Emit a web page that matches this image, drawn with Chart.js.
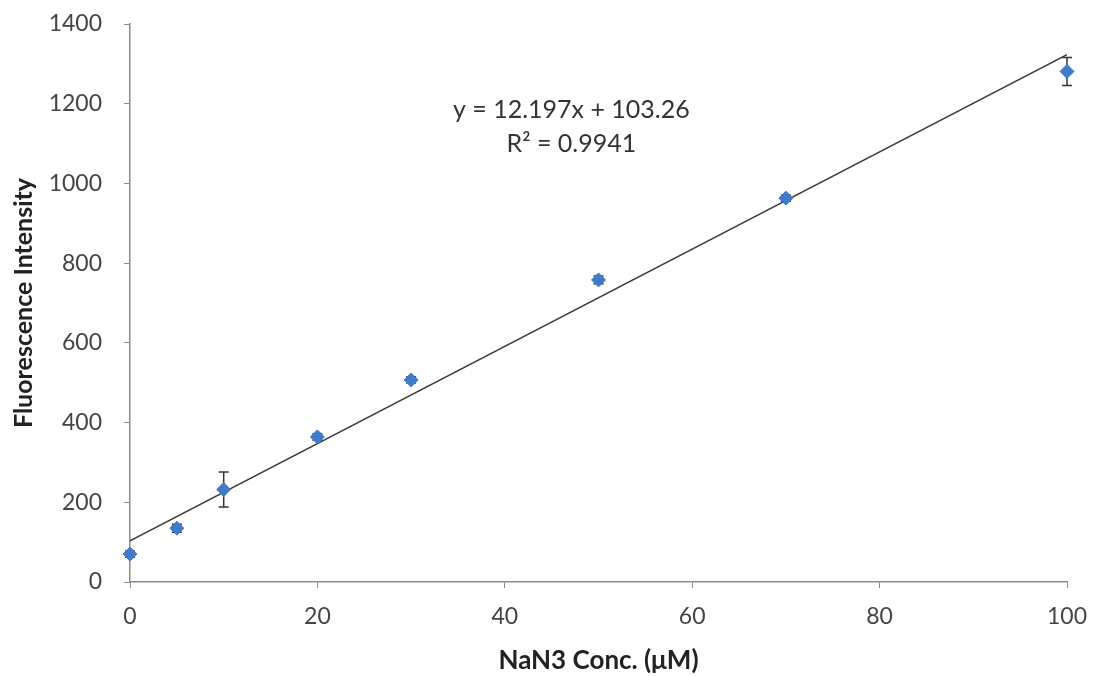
<!DOCTYPE html>
<html lang="en">
<head>
    <meta charset="UTF-8">
    <title>Fluorescence Intensity vs NaN3 Conc.</title>
    <script src="https://cdn.jsdelivr.net/npm/chart.js"></script>
    <style>
        html, body { margin: 0; padding: 0; background: #fff; }
        #wrap { width: 1093px; height: 676px; position: relative; }
    </style>
</head>
<body>
    <div id="wrap"><canvas id="chart"></canvas></div>

    <script>
        // Values
        const concentrations = [0, 5, 10, 20, 30, 50, 70, 100];
        const intensities = [70, 135, 232, 364, 507, 758, 963, 1281];
        const errors = [8, 10, 44, 8, 8, 10, 8, 35];

        // Trend line endpoints (y = 12.197x + 103.26)
        const trendX = [0, 100];
        const trendY = [103.26, 1323.0];
        const equationLines = ['y = 12.197x + 103.26', 'R² = 0.9941'];

        const xTicks = [0, 20, 40, 60, 80, 100];
        const yTicks = [0, 200, 400, 600, 800, 1000, 1200, 1400];

        const fontFamily = 'Lato, "Open Sans", sans-serif';

        // Error bars drawn through the scales, under the markers
        const errorBars = {
            id: 'errorBars',
            beforeDatasetsDraw(chart) {
                const { ctx, scales: { x, y } } = chart;
                ctx.save();
                ctx.strokeStyle = '#333';
                ctx.lineWidth = 1.5;
                concentrations.forEach((c, i) => {
                    const px = x.getPixelForValue(c);
                    const top = y.getPixelForValue(intensities[i] + errors[i]);
                    const bot = y.getPixelForValue(intensities[i] - errors[i]);
                    ctx.beginPath();
                    ctx.moveTo(px, top); ctx.lineTo(px, bot);
                    ctx.moveTo(px - 5, top); ctx.lineTo(px + 5, top);
                    ctx.moveTo(px - 5, bot); ctx.lineTo(px + 5, bot);
                    ctx.stroke();
                });
                ctx.restore();
            }
        };

        // Equation label and the y axis title
        const labels = {
            id: 'labels',
            afterDraw(chart) {
                const { ctx, chartArea, scales: { x, y } } = chart;
                ctx.save();
                ctx.fillStyle = '#333';
                ctx.font = '25px ' + fontFamily;
                ctx.textAlign = 'center';
                ctx.textBaseline = 'middle';
                const px = x.getPixelForValue(47.1);
                ctx.fillText(equationLines[0], px, y.getPixelForValue(1185));
                ctx.fillText(equationLines[1], px, y.getPixelForValue(1100));

                ctx.translate(24, (chartArea.top + chartArea.bottom) / 2);
                ctx.rotate(-Math.PI / 2);
                ctx.fillStyle = '#222';
                ctx.font = 'bold 25px ' + fontFamily;
                ctx.fillText('Fluorescence Intensity', 0, 0);
                ctx.restore();
            }
        };

        new Chart(document.getElementById('chart'), {
            type: 'scatter',
            data: {
                datasets: [
                    {
                        label: 'Trend',
                        type: 'line',
                        data: trendX.map((v, i) => ({ x: v, y: trendY[i] })),
                        borderColor: '#3a3a3a',
                        borderWidth: 1.5,
                        pointRadius: 0,
                        order: 2
                    },
                    {
                        label: 'Fluorescence',
                        data: concentrations.map((c, i) => ({ x: c, y: intensities[i] })),
                        pointStyle: 'rectRot',
                        pointRadius: 7,
                        backgroundColor: '#3f7bc9',
                        borderColor: '#3f7bc9',
                        clip: false,
                        order: 1
                    }
                ]
            },
            options: {
                responsive: true,
                maintainAspectRatio: false,
                animation: false,
                layout: { padding: { top: 24, right: 26, left: 0, bottom: 0 } },
                plugins: {
                    legend: { display: false },
                    tooltip: { enabled: false }
                },
                scales: {
                    x: {
                        type: 'linear',
                        min: 0,
                        max: 100,
                        afterBuildTicks: s => { s.ticks = xTicks.map(v => ({ value: v })); },
                        afterFit: s => { s.height = 94; s.paddingLeft = 0; s.paddingRight = 0; },
                        border: { color: '#8a8a8a', width: 1.5 },
                        grid: { drawOnChartArea: false, tickLength: 6, color: '#8a8a8a' },
                        ticks: {
                            color: '#444', padding: 15,
                            font: { family: fontFamily, size: 23 },
                            callback: v => String(v)
                        },
                        title: {
                            display: true,
                            text: 'NaN3 Conc. (μM)',
                            color: '#222',
                            padding: { top: 0, bottom: 0 },
                            font: { family: fontFamily, size: 26, weight: 'bold' }
                        }
                    },
                    y: {
                        min: 0,
                        max: 1400,
                        afterBuildTicks: s => { s.ticks = yTicks.map(v => ({ value: v })); },
                        afterFit: s => { s.width = 130; s.paddingTop = 0; s.paddingBottom = 0; },
                        border: { color: '#8a8a8a', width: 1.5 },
                        grid: { drawOnChartArea: false, tickLength: 6, color: '#8a8a8a' },
                        ticks: {
                            color: '#444', padding: 22,
                            font: { family: fontFamily, size: 23 },
                            callback: v => String(v)
                        }
                    }
                }
            },
            plugins: [errorBars, labels]
        });
    </script>
</body>
</html>
